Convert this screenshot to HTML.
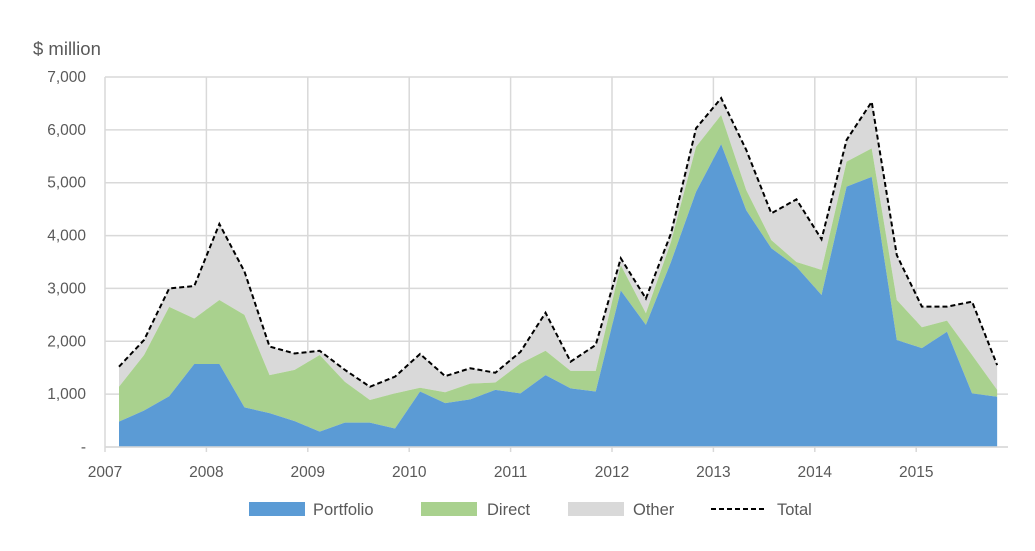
<!DOCTYPE html>
<html><head><meta charset="utf-8"><style>
body{margin:0;background:#fff;font-family:"Liberation Sans",sans-serif}
svg text{font-family:"Liberation Sans",sans-serif;fill:#595959}
</style></head><body>
<svg id="c" width="1035" height="546"></svg>
<script>
const years=["2007","2008","2009","2010","2011","2012","2013","2014","2015"];
const yTicks=[0,1000,2000,3000,4000,5000,6000,7000];
const yTickLabels=["-","1,000","2,000","3,000","4,000","5,000","6,000","7,000"];
const portfolio=[480,690,960,1570,1570,750,640,490,290,460,460,350,1050,830,900,1080,1015,1360,1110,1050,2960,2310,3500,4830,5730,4480,3760,3410,2875,4925,5110,2025,1870,2180,1015,950];
const direct=[660,1050,1690,860,1210,1750,720,970,1450,775,430,665,70,205,300,140,565,460,330,390,480,220,380,850,550,380,155,90,475,475,540,755,395,210,725,130];
const other=[380,285,350,615,1440,820,540,310,80,225,250,315,640,305,290,185,220,720,175,490,130,280,160,350,320,760,505,1185,580,410,880,850,390,265,1010,470];
const NS='http://www.w3.org/2000/svg';
const svg=document.getElementById('c');
const X0=105,YW=101.4,Y0=447,YMAX=77,VMAX=7000;
const xq=i=>119+25.09*i;
const yv=v=>Y0-(Y0-YMAX)*v/VMAX;
function el(t,a){const e=document.createElementNS(NS,t);for(const k in a)e.setAttribute(k,a[k]);svg.appendChild(e);return e;}
yTicks.forEach((v,i)=>{
 const l=el('line',{x1:X0,x2:1008,y1:yv(v),y2:yv(v),stroke:'#d9d9d9','stroke-width':1.5});
 
 
 const t=el('text',{x:86,y:yv(v)+5,'text-anchor':'end','font-size':15.5});
 t.textContent=yTickLabels[i];
 
 
});
years.forEach((y,i)=>{
 const x=X0+YW*i;
 const l=el('line',{x1:x,x2:x,y1:YMAX,y2:Y0+5,stroke:'#d9d9d9','stroke-width':1.5});
 
 
 const t=el('text',{x:x,y:477,'text-anchor':'middle','font-size':15.5});
 t.textContent=y;
 
 
});
const n=portfolio.length;
const s1=portfolio.slice(),s2=portfolio.map((v,i)=>v+direct[i]),s3=s2.map((v,i)=>v+other[i]);
function area(top,bot,color,name){
 let d='';
 for(let i=0;i<n;i++)d+=(i?'L':'M')+xq(i)+','+yv(top[i]);
 for(let i=n-1;i>=0;i--)d+='L'+xq(i)+','+yv(bot?bot[i]:0);
 const p=el('path',{d:d+'Z',fill:color});
 
 
}
area(s3,s2,'#d9d9d9','other-area');
area(s2,s1,'#a9d18e','direct-area');
area(s1,null,'#5b9bd5','portfolio-area');
let d='';for(let i=0;i<n;i++)d+=(i?'L':'M')+xq(i)+','+yv(s3[i]);
const tl=el('path',{d:d,fill:'none',stroke:'#000','stroke-width':2,'stroke-dasharray':'5,3'});


const ax=el('line',{x1:X0,x2:1008,y1:Y0,y2:Y0,stroke:'#d9d9d9','stroke-width':1.5});


const ti=el('text',{x:33,y:55,'font-size':18.5});
ti.textContent='$ million';


const leg=[['Portfolio','#5b9bd5',249,313],['Direct','#a9d18e',421,487],['Other','#d9d9d9',568,633]];
leg.forEach(([n,c,sx,tx])=>{
 const r=el('rect',{x:sx,y:502,width:56,height:14,fill:c});
 
 
 const t=el('text',{x:tx,y:515,'font-size':16.5});
 t.textContent=n;
 
 
});
const ll=el('line',{x1:711,x2:767,y1:509,y2:509,stroke:'#000','stroke-width':2,'stroke-dasharray':'5,3'});


const lt=el('text',{x:777,y:515,'font-size':16.5});
lt.textContent='Total';


</script>
</body></html>
